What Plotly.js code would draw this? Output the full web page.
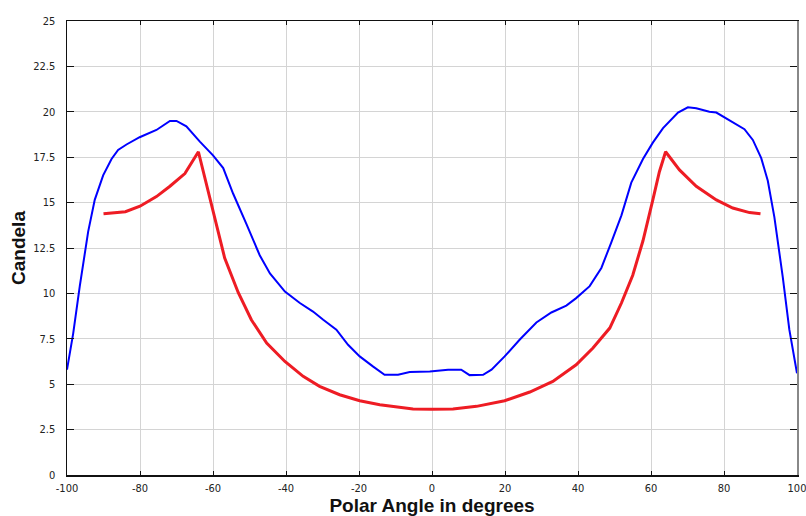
<!DOCTYPE html>
<html>
<head>
<meta charset="utf-8">
<script src="https://cdn.plot.ly/plotly-3.0.1.min.js"></script>
<style>html,body{margin:0;padding:0;background:#fff;}#chart{width:806px;height:516px;}</style>
</head>
<body>
<div id="chart"></div>
<script>
const blueAngle = [-100,-98.3,-96.5,-94.2,-92.4,-90.1,-87.8,-86,-83.7,-80.1,-75.5,-71.8,-70,-67.3,-63.6,-60,-57.2,-54.5,-50.8,-47.2,-44.4,-40.3,-36.2,-32.6,-29.8,-26.2,-23,-19.8,-16.2,-13,-9.3,-6.1,-0.6,4.4,8,10.3,14,16.3,19.9,24,28.6,32.7,36.8,39.5,43.2,46.4,49.1,51.9,54.6,57.8,60.5,63.3,67.4,70.1,72.4,76,77.9,80.6,85.6,87.9,90.2,92,93.8,96.1,97.9,100];
const blueCandela = [5.8,7.8,10.4,13.4,15.15,16.5,17.4,17.9,18.2,18.6,19.0,19.5,19.5,19.2,18.36,17.6,16.9,15.5,13.8,12.1,11.1,10.1,9.47,9.0,8.55,8.0,7.17,6.53,5.98,5.52,5.52,5.67,5.7,5.8,5.8,5.5,5.52,5.8,6.53,7.45,8.4,8.95,9.33,9.74,10.4,11.4,12.8,14.3,16.1,17.4,18.3,19.1,19.96,20.25,20.2,20.0,19.96,19.65,19.04,18.45,17.45,16.2,14.2,10.9,8.0,5.6];

const redAngle = [-90,-84,-80,-75.5,-71.8,-67.7,-64,-61.8,-60,-59.5,-56.8,-53.1,-49.5,-45.3,-40.3,-35.3,-30.8,-25.3,-19.8,-14.3,-8.8,-5.2,0,5.75,12.2,19.9,26.8,33.1,39.5,44.1,48.7,51.9,55,57.8,60.5,62.3,64,67.8,72.4,77.9,82.4,87,90];
const redCandela = [14.38,14.5,14.8,15.33,15.9,16.6,17.8,16.05,14.6,14.1,11.95,10.05,8.55,7.26,6.25,5.43,4.88,4.42,4.09,3.87,3.72,3.63,3.62,3.63,3.78,4.09,4.57,5.15,6.07,6.99,8.09,9.47,11.0,12.9,15.15,16.7,17.8,16.8,15.9,15.15,14.7,14.45,14.38];

const xTicks = [-100,-80,-60,-40,-20,0,20,40,60,80,100];
const yTicks = [0,2.5,5,7.5,10,12.5,15,17.5,20,22.5,25];
const yTickText = ['0','2.5','5','7.5','10','12.5','15','17.5','20','22.5','25'];

const tickFont = {family:'DejaVu Sans Condensed, Liberation Sans Narrow, sans-serif', size:11, color:'#222'};

const data = [
  {x: blueAngle, y: blueCandela, type:'scatter', mode:'lines', line:{color:'#0000ff', width:2}, hoverinfo:'skip'},
  {x: redAngle, y: redCandela, type:'scatter', mode:'lines', line:{color:'#ee1c24', width:3}, hoverinfo:'skip'},
  {x: [], y: [], yaxis:'y2', type:'scatter', mode:'lines', hoverinfo:'skip'}
];

const layout = {
  width:806, height:516,
  margin:{l:67, r:9, t:21, b:41, pad:0},
  paper_bgcolor:'#fff', plot_bgcolor:'#fff',
  showlegend:false,
  xaxis:{
    range:[-100,100], tickvals:xTicks, ticktext:xTicks.map(String),
    showgrid:true, gridcolor:'#d4d4d4', gridwidth:1, zeroline:false,
    showline:true, linecolor:'#111', linewidth:1.5, mirror:'ticks',
    ticks:'inside', ticklen:4, tickcolor:'#111', tickwidth:1,
    tickfont:tickFont, ticklabelstandoff:2, ticklabeloverflow:'allow',
    title:{text:'Polar Angle in degrees', font:{family:'Liberation Sans, Arial, sans-serif', size:19, color:'#111', weight:'bold'}, standoff:6}
  },
  yaxis:{
    range:[0,25], tickvals:yTicks, ticktext:yTickText,
    showgrid:true, gridcolor:'#d4d4d4', gridwidth:1, zeroline:false,
    showline:true, linecolor:'#111', linewidth:1.5,
    ticks:'inside', ticklen:7, tickcolor:'#111', tickwidth:1,
    tickfont:tickFont, ticklabelstandoff:8, ticklabeloverflow:'allow',
    title:{text:'Candela', font:{family:'Liberation Sans, Arial, sans-serif', size:19, color:'#111', weight:'bold'}, standoff:2}
  },
  yaxis2:{
    overlaying:'y', side:'right', matches:'y', range:[0,25], tickvals:yTicks,
    showgrid:false, zeroline:false, showticklabels:false,
    showline:true, linecolor:'#888', linewidth:2,
    ticks:'inside', ticklen:7, tickcolor:'#111', tickwidth:1
  }
};

Plotly.newPlot('chart', data, layout, {staticPlot:true, displayModeBar:false});
</script>
</body>
</html>
